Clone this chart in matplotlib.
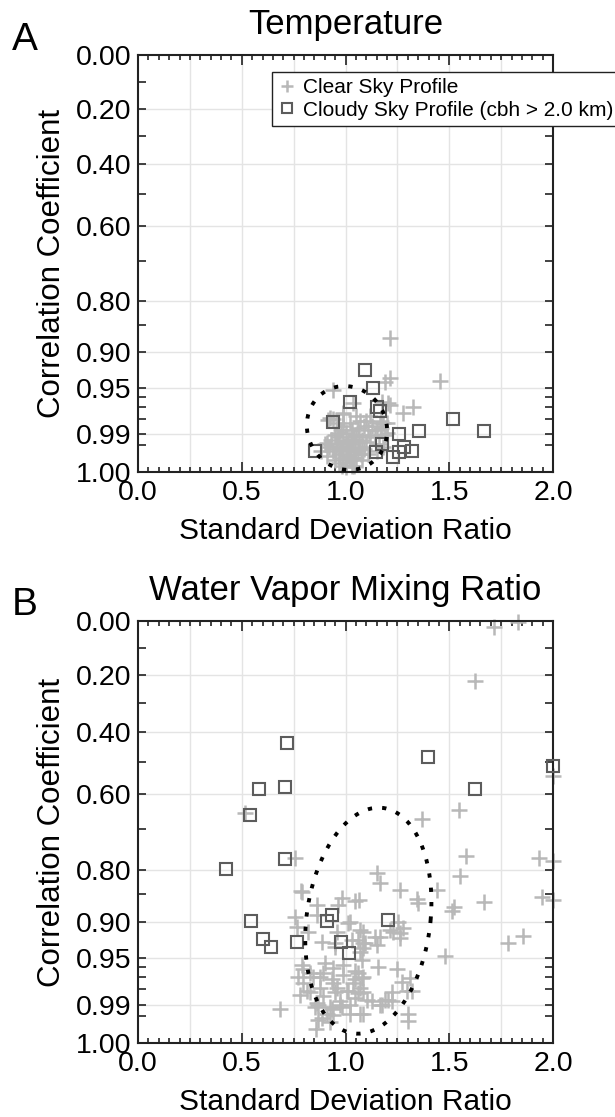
import numpy as np
import matplotlib.pyplot as plt
from matplotlib.ticker import FixedLocator, MultipleLocator, NullFormatter

plt.rcParams['font.family'] = ['Liberation Sans', 'DejaVu Sans']

# ---- Temperature: standard deviation ratio / correlation coefficient ----
temp_clear_sdr = [1.214, 1.455, 1.190, 1.214, 0.940, 1.036, 1.176, 1.214, 1.277, 1.325,
                  1.205, 0.988, 0.925, 0.916, 1.200, 1.166, 1.200, 0.910, 1.180, 1.150,
                  0.95, 0.97, 0.99, 1.00, 1.01, 1.02, 1.03, 1.04, 1.05, 0.98,
                  1.00, 1.02, 1.06, 0.96, 0.99, 1.03, 1.07, 1.09, 0.94, 0.92,
                  1.01, 1.04, 0.97, 1.10, 1.08, 0.95, 1.00, 1.05, 1.12, 0.93,
                  1.11, 1.03, 0.98, 1.14, 1.06, 0.99, 1.09, 1.15, 1.13, 1.02,
                  1.07, 0.96, 1.17, 1.18, 1.10, 0.90, 1.00, 0.97, 1.04, 1.08,
                  1.11, 0.91, 1.16, 1.19, 0.88, 0.94, 1.05, 1.12, 1.17, 0.99,
                  0.985, 1.015, 1.025, 0.955, 1.045, 1.065, 0.975, 1.035, 1.075, 0.965]
temp_clear_r = [0.875, 0.942, 0.943, 0.938, 0.953, 0.966, 0.965, 0.968, 0.975, 0.970,
                0.966, 0.975, 0.979, 0.981, 0.983, 0.983, 0.989, 0.994, 0.9956, 0.9969,
                0.9990, 0.9976, 0.9986, 0.9994, 0.9981, 0.9990, 0.9997, 0.9976, 0.9986, 0.9962,
                0.9954, 0.9962, 0.9969, 0.9945, 0.9936, 0.9945, 0.9954, 0.9962, 0.9969, 0.9954,
                0.9925, 0.9914, 0.9914, 0.9936, 0.9925, 0.9903, 0.9890, 0.9903, 0.9914, 0.9925,
                0.9877, 0.9877, 0.9877, 0.9903, 0.9863, 0.9848, 0.9848, 0.9877, 0.9848, 0.9832,
                0.9816, 0.9832, 0.9863, 0.9832, 0.9816, 0.9945, 0.9998, 0.9994, 0.9997, 0.9990,
                0.9976, 0.9981, 0.9945, 0.9903, 0.9969, 0.9799, 0.9781, 0.9781, 0.9816, 0.9763,
                0.9997, 0.9969, 0.9925, 0.9962, 0.9936, 0.9903, 0.9954, 0.9986, 0.9976, 0.9890]
temp_cloudy_sdr = [1.094, 1.133, 1.022, 1.152, 1.166, 0.940, 1.354, 1.258, 0.853,
                   1.176, 1.147, 1.229, 1.258, 1.282, 1.320, 1.518, 1.667]
temp_cloudy_r = [0.927, 0.950, 0.965, 0.970, 0.974, 0.982, 0.988, 0.990, 0.9969,
                 0.9945, 0.9972, 0.9984, 0.9972, 0.9956, 0.9969, 0.980, 0.988]

# ---- Water vapor mixing ratio ----
wv_clear_sdr = [1.716, 1.831, 1.624, 2.000, 0.516, 1.547, 1.369, 1.581, 1.932, 2.000,
                0.757, 1.152, 1.166, 1.552, 0.786, 1.263, 1.441, 1.345, 1.349, 1.947,
                2.000, 1.667, 1.513, 1.523, 0.863, 0.863, 0.983, 1.046, 1.065, 0.964,
                0.757, 0.766, 0.819, 1.022, 1.070, 1.084, 0.959, 1.253, 1.277, 1.263,
                1.214, 0.887, 0.949, 1.031, 1.094, 1.152, 1.166, 1.855, 1.783, 1.480,
                1.070, 1.080, 0.901, 0.988, 1.046, 0.940, 1.157, 1.248, 0.790, 0.829,
                0.877, 0.935, 0.988, 1.046, 1.080, 1.272, 1.311, 0.771, 0.814, 0.877,
                0.949, 1.007, 1.060, 1.224, 1.296, 0.781, 1.046, 1.104, 1.166, 1.205,
                0.684, 0.853, 0.935, 0.973, 0.867, 0.983, 0.867, 0.940, 1.022, 1.070,
                1.301, 0.911, 0.858, 1.301, 0.790, 1.012, 1.084, 1.060, 0.795, 0.795,
                0.892, 0.843, 0.940, 1.036, 1.060, 0.959, 1.012, 1.070, 0.829, 0.892,
                0.973, 1.022, 0.863, 0.925, 0.887, 1.229, 1.263, 1.142, 1.084, 1.084,
                1.320, 1.084, 1.128, 1.190, 1.224, 1.176, 1.084, 0.949, 0.925]
wv_clear_r = [0.022, 0.004, 0.222, 0.546, 0.654, 0.646, 0.672, 0.767, 0.771, 0.778,
              0.771, 0.807, 0.828, 0.812, 0.845, 0.843, 0.843, 0.859, 0.867, 0.855,
              0.861, 0.865, 0.881, 0.875, 0.870, 0.888, 0.857, 0.863, 0.861, 0.870,
              0.892, 0.908, 0.916, 0.900, 0.913, 0.916, 0.916, 0.900, 0.909, 0.917,
              0.912, 0.930, 0.931, 0.927, 0.931, 0.934, 0.923, 0.921, 0.931, 0.948,
              0.943, 0.953, 0.956, 0.958, 0.964, 0.961, 0.960, 0.962, 0.958, 0.966,
              0.970, 0.972, 0.968, 0.972, 0.971, 0.974, 0.971, 0.970, 0.981, 0.979,
              0.982, 0.981, 0.983, 0.982, 0.981, 0.984, 0.986, 0.987, 0.990, 0.987,
              0.992, 0.991, 0.992, 0.990, 0.990, 0.991, 0.9963, 0.9945, 0.994, 0.994,
              0.994, 0.994, 0.9986, 0.9966, 0.847, 0.901, 0.931, 0.927, 0.962, 0.975,
              0.966, 0.970, 0.975, 0.975, 0.966, 0.979, 0.981, 0.979, 0.982, 0.985,
              0.988, 0.990, 0.989, 0.991, 0.9957, 0.916, 0.925, 0.923, 0.938, 0.970,
              0.981, 0.982, 0.988, 0.987, 0.988, 0.990, 0.994, 0.937, 0.9969]
wv_cloudy_sdr = [0.718, 0.583, 0.708, 0.540, 1.398, 2.000, 1.624, 0.708, 0.424,
                 0.545, 0.935, 0.911, 0.602, 0.641, 0.766, 0.978, 1.017, 1.205]
wv_cloudy_r = [0.440, 0.584, 0.578, 0.660, 0.486, 0.515, 0.584, 0.774, 0.797,
               0.898, 0.888, 0.898, 0.926, 0.937, 0.930, 0.930, 0.944, 0.897]

# ellipse: centre sdr, centre angle (deg), sdr half-width, angle half-height, tilt
temp_ellipse = (1.007, 9.5, 0.193, 9.06, -0.012)
wv_ellipse = (1.110, 26.1, 0.300, 24.1, 0.050)

x_ticks = [0.0, 0.5, 1.0, 1.5, 2.0]
x_labels = ['0.0', '0.5', '1.0', '1.5', '2.0']
r_ticks = [0.0, 0.2, 0.4, 0.6, 0.8, 0.9, 0.95, 0.99, 1.0]
r_labels = ['0.00', '0.20', '0.40', '0.60', '0.80', '0.90', '0.95', '0.99', '1.00']
r_minor = [0.1, 0.3, 0.5, 0.7, 0.85, 0.96, 0.97, 0.98, 0.995]


def to_deg(r):
    return np.degrees(np.arccos(np.clip(r, -1, 1)))


def from_deg(d):
    return np.cos(np.radians(d))


def panel(ax, clear_x, clear_r, cloudy_x, cloudy_r, ell, title):
    ax.set_yscale('function', functions=(to_deg, from_deg))
    ax.set_xlim(0, 2)
    ax.set_ylim(0.0, 1.0)

    for gx in np.arange(0.25, 2.0, 0.25):
        ax.axvline(gx, color='#e4e4e4', lw=1, zorder=0)
    for gy in r_ticks[1:-1]:
        ax.axhline(gy, color='#e4e4e4', lw=1, zorder=0)

    ax.plot(clear_x, clear_r, ls='none', marker='+', ms=11, mew=1.8,
            color='#b8b8b8', label='Clear Sky Profile', clip_on=False, zorder=2)
    ax.plot(cloudy_x, cloudy_r, ls='none', marker='s', ms=8.5, mew=1.5,
            mfc='none', mec='#5c5c5c', label='Cloudy Sky Profile (cbh > 2.0 km)',
            clip_on=False, zorder=3)

    cx, cd, a, b, s = ell
    t = np.linspace(0, 2 * np.pi, 400)
    ax.plot(cx + a * np.cos(t) + s * np.sin(t), from_deg(cd + b * np.sin(t)),
            color='black', lw=2.8, dashes=(1.1, 2.6), zorder=4)

    ax.yaxis.set_major_locator(FixedLocator(r_ticks))
    ax.set_yticklabels(r_labels)
    ax.yaxis.set_minor_locator(FixedLocator(r_minor))
    ax.yaxis.set_minor_formatter(NullFormatter())
    ax.xaxis.set_major_locator(FixedLocator(x_ticks))
    ax.set_xticklabels(x_labels)
    ax.xaxis.set_minor_locator(MultipleLocator(0.05))

    ax.tick_params(which='both', direction='in', top=True, right=True,
                   labelsize=20.5, width=1.2, color='#222222')
    ax.tick_params(axis='x', which='major', length=7, pad=6)
    ax.tick_params(axis='x', which='minor', length=3.5)
    ax.tick_params(axis='y', which='both', length=5.5, pad=5)
    for sp in ax.spines.values():
        sp.set_linewidth(1.5)
        sp.set_color('#222222')

    ax.set_xlabel('Standard Deviation Ratio', fontsize=21.5, labelpad=8)
    ax.set_ylabel('Correlation Coefficient', fontsize=22.5, labelpad=6)
    ax.set_title(title, fontsize=25, pad=15)


fig = plt.figure(figsize=(6.15, 11.17), dpi=100)
ax1 = fig.add_axes([0.2244, 0.5774, 0.6748, 0.3733])
ax2 = fig.add_axes([0.2244, 0.0662, 0.6748, 0.3778])

panel(ax1, temp_clear_sdr, temp_clear_r, temp_cloudy_sdr, temp_cloudy_r,
      temp_ellipse, 'Temperature')
panel(ax2, wv_clear_sdr, wv_clear_r, wv_cloudy_sdr, wv_cloudy_r,
      wv_ellipse, 'Water Vapor Mixing Ratio')

leg = ax1.legend(loc='upper left', bbox_to_anchor=(0.323, 0.959), borderaxespad=0,
                 fontsize=15, frameon=True, fancybox=False, framealpha=1,
                 edgecolor='#222222', handlelength=0.8, handletextpad=0.4,
                 borderpad=0.3, labelspacing=0.15, markerscale=0.8)
leg.get_frame().set_linewidth(1.0)

fig.text(25 / 615, 1 - 40 / 1117, 'A', fontsize=28, ha='center', va='center')
fig.text(25 / 615, 1 - 605 / 1117, 'B', fontsize=28, ha='center', va='center')

fig.savefig('out.png', dpi=100)
